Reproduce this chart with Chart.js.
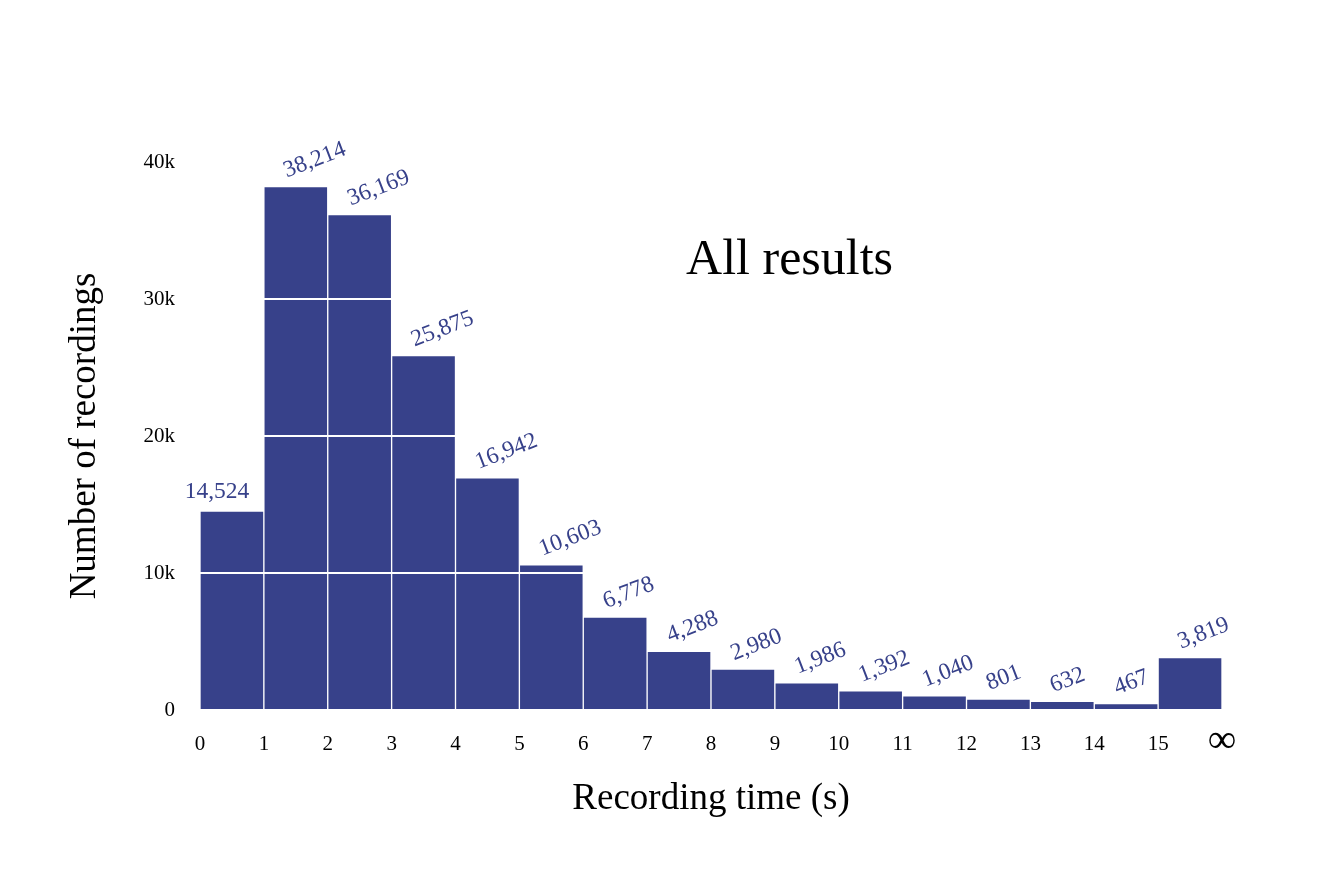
<!DOCTYPE html>
<html><head><meta charset="utf-8">
<script src="https://cdn.jsdelivr.net/npm/chart.js@4.4.1/dist/chart.umd.min.js"></script>
<style>html,body{margin:0;padding:0;background:#fff}#wrap{width:1344px;height:872px;position:relative}canvas{display:block}</style>
</head><body><div id="wrap"><canvas id="c" width="1344" height="872"></canvas></div>
<script>
const binStarts = [0,1,2,3,4,5,6,7,8,9,10,11,12,13,14,15];
const counts = [14524,38214,36169,25875,16942,10603,6778,4288,2980,1986,1392,1040,801,632,467,3819];
const xTickLabels = ['0','1','2','3','4','5','6','7','8','9','10','11','12','13','14','15','\u221E'];
const yTicks = [0,10000,20000,30000,40000];
const yTickLabels = ['0','10k','20k','30k','40k'];
const chartTitle = 'All results';
const xTitle = 'Recording time (s)';
const yTitle = 'Number of recordings';

const BAR = 'rgb(55,65,138)';
const SERIF = '"Liberation Serif", "DejaVu Serif", serif';

const labelPlugin = {
  id: 'barLabels',
  afterDraw(chart) {
    const ctx = chart.ctx;
    const meta = chart.getDatasetMeta(0);
    ctx.save();
    ctx.font = '23.5px ' + SERIF;
    ctx.fillStyle = BAR;
    ctx.textBaseline = 'alphabetic';
    meta.data.forEach((bar, i) => {
      const txt = counts[i].toLocaleString('en-US');
      ctx.save();
      if (i === 0) {
        ctx.textAlign = 'center';
        ctx.fillText(txt, bar.x - 15, bar.y - 13);
      } else {
        ctx.translate(bar.x - 9, bar.y - 9);
        ctx.rotate(-21 * Math.PI / 180);
        ctx.textAlign = 'left';
        ctx.fillText(txt, 0, 0);
      }
      ctx.restore();
    });
    const xs = chart.scales.x, ys = chart.scales.y;
    ctx.fillStyle = '#000';
    ctx.font = '50px ' + SERIF;
    ctx.textAlign = 'center';
    ctx.textBaseline = 'middle';
    ctx.fillText(chartTitle, xs.getPixelForValue(9.23), ys.getPixelForValue(32800));
    ctx.restore();
  }
};

new Chart(document.getElementById('c'), {
  type: 'bar',
  data: {
    datasets: [{
      data: binStarts.map((s, i) => ({x: s + 0.5, y: counts[i]})),
      backgroundColor: BAR,
      borderColor: '#ffffff',
      borderWidth: 1,
      barPercentage: 1,
      categoryPercentage: 1
    }]
  },
  plugins: [labelPlugin],
  options: {
    responsive: false,
    animation: false,
    devicePixelRatio: 1,
    layout: {padding: {top: 162, right: 122, left: 0, bottom: 0}},
    plugins: {legend: {display: false}, tooltip: {enabled: false}, title: {display: false}},
    scales: {
      x: {
        type: 'linear',
        min: 0, max: 16,
        offset: false,
        grid: {display: false, offset: false, drawTicks: false},
        border: {display: false},
        afterFit(s) { s.height = 162; },
        afterBuildTicks(s) { s.ticks = xTickLabels.map((_, i) => ({value: i})); },
        ticks: {
          autoSkip: false, maxRotation: 0, minRotation: 0, padding: 22,
          color: '#000',
          font: (c) => (c.tick && c.tick.value === 16) ? {family: SERIF, size: 40, lineHeight: 0.45} : {family: SERIF, size: 21},
          callback: (v) => xTickLabels[v]
        },
        title: {display: true, text: xTitle, color: '#000', font: {family: SERIF, size: 37}, padding: {top: 0, bottom: 51}}
      },
      y: {
        min: 0, max: 40000,
        grid: {
          z: 1, lineWidth: 2, drawTicks: false,
          color: (c) => (c.tick && (c.tick.value === 0 || c.tick.value === 40000)) ? 'rgba(0,0,0,0)' : '#ffffff'
        },
        border: {display: false},
        afterFit(s) { s.width = 200; },
        afterBuildTicks(s) { s.ticks = yTicks.map(v => ({value: v})); },
        ticks: {
          padding: 25, color: '#000', font: {family: SERIF, size: 21},
          callback: (v) => yTickLabels[yTicks.indexOf(v)]
        },
        title: {display: true, text: yTitle, color: '#000', font: {family: SERIF, size: 37}, padding: {top: 63, bottom: 0}}
      }
    }
  }
});
</script>
</body></html>
